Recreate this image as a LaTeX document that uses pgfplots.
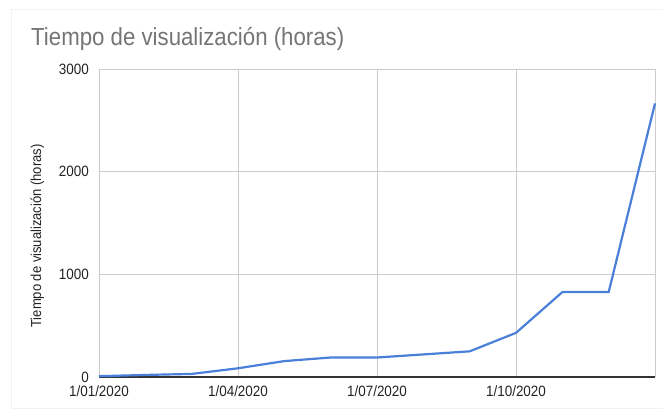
\documentclass[border=0pt]{standalone}
\usepackage{fontspec}
\setmainfont[FakeStretch=0.9]{Liberation Sans}
\usepackage{pgfplots}
\pgfplotsset{compat=1.18}

\definecolor{lineblue}{HTML}{4A80D9}
\definecolor{titlegray}{HTML}{757575}
\definecolor{gridgray}{HTML}{CCCCCC}
\definecolor{framegray}{HTML}{F2F2F2}
\definecolor{axisdark}{HTML}{333333}
\definecolor{labelgray}{HTML}{222222}

% Monthly watch time in hours, month 0 = 1/01/2020
\pgfplotstableread{
month hours
0  8
1  20
2  30
3  85
4  155
5  190
6  190
7  220
8  250
9  430
10 827
11 827
12 2665
}\watchtime

\begin{document}
\begin{tikzpicture}[x=1bp,y=1bp]
\path[use as bounding box] (0,0) rectangle (663,412);
% light card frame
\draw[framegray, line width=0.8bp] (663,403) -- (11,403) -- (11,4) -- (663,4);
% chart title
\node[anchor=base west, inner sep=0pt, text=titlegray,
      font=\fontsize{24.8}{29}\selectfont] at (31,367) {Tiempo de visualización (horas)};
% vertical axis title
\node[rotate=90, anchor=base, inner sep=0pt, text=labelgray,
      font=\fontsize{14.5}{17}\selectfont] at (41,176) {Tiempo de visualización (horas)};
\begin{axis}[
  at={(99bp,35bp)}, anchor=south west,
  width=556bp, height=308bp, scale only axis,
  xmin=0, xmax=12, ymin=0, ymax=3000,
  axis x line*=bottom, axis y line*=left,
  x axis line style={draw=axisdark, line width=1.3bp},
  y axis line style={draw=none},
  xtick={0,3,6,9},
  xticklabels={1/01/2020,1/04/2020,1/07/2020,1/10/2020},
  extra x ticks={12}, extra x tick labels={},
  extra x tick style={grid=major},
  ytick={0,1000,2000,3000},
  major tick length=0pt,
  grid=major,
  grid style={gridgray, line width=0.8bp},
  /pgf/number format/assume math mode=true,
  /pgf/number format/1000 sep={},
  tick label style={font=\fontsize{15}{18}\selectfont, text=labelgray},
  xticklabel style={anchor=base, inner sep=0pt, yshift=-19bp},
  yticklabel style={anchor=east, inner sep=0pt, xshift=-10bp},
  clip=false,
]
\addplot[lineblue, line width=2.2bp, line join=round] table[x=month, y=hours] {\watchtime};
\end{axis}
\end{tikzpicture}
\end{document}
